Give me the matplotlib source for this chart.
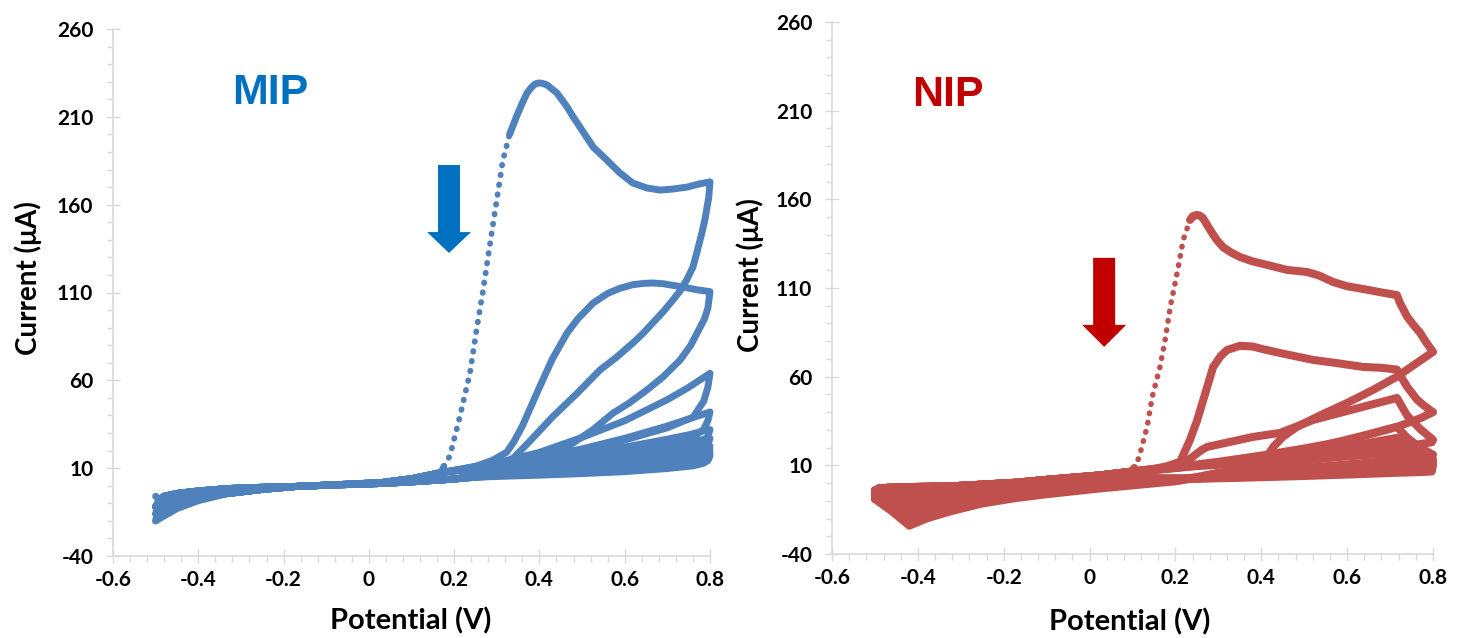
import numpy as np
import matplotlib.pyplot as plt
from matplotlib.patches import FancyArrow
from matplotlib.ticker import FixedLocator, FixedFormatter, MultipleLocator

plt.rcParams['axes.unicode_minus'] = False
plt.rcParams['font.family'] = ['Lato', 'DejaVu Sans']
plt.rcParams['font.weight'] = 'bold'

# axis ticks
x_ticks = [-0.6, -0.4, -0.2, 0, 0.2, 0.4, 0.6, 0.8]
x_tick_labels = ['-0.6', '-0.4', '-0.2', '0', '0.2', '0.4', '0.6', '0.8']
y_ticks = [-40, 10, 60, 110, 160, 210, 260]
y_tick_labels = ['-40', '10', '60', '110', '160', '210', '260']

# ---------------- MIP ----------------
mip_start_y = [-6, -20, -16, -12, -12, -12, -12, -12, -12, -12]   # forward start at -0.5 V

mip_fwd_base_x = [-0.49, -0.48, -0.45, -0.4, -0.33, -0.25, -0.17, -0.1, 0.03, 0.1, 0.17]
mip_fwd_base_y = [-8, -6, -4.4, -3, -1.6, -0.9, -0.4, 0.3, 1.8, 4.0, 7.5]

mip_rev_base_x = [0.2, 0.1, 0.03, -0.1, -0.17, -0.25, -0.33]
mip_rev_base_y = [3.8, 2.2, 1.3, 0.3, -0.4, -2.1, -4.4]

mip_tail_x = [-0.4, -0.45, -0.5]
mip_tail_r1 = [-8.5, -13, -20]
mip_tail_r2 = [-7, -10.5, -16]
mip_tail_rest = [-6, -8, -12]

mip_f1_x = [0.176, 0.19, 0.21, 0.237, 0.252, 0.267, 0.29, 0.314, 0.33, 0.346, 0.36,
            0.371, 0.382, 0.39, 0.398, 0.408, 0.418, 0.441, 0.465, 0.479, 0.495,
            0.526, 0.558, 0.589, 0.619, 0.652, 0.683, 0.713, 0.746, 0.775, 0.8]
mip_f1_y = [11, 17, 36, 64, 88, 110, 147, 185, 200, 210, 218,
            223.6, 227, 228.7, 229.3, 229, 228.1, 223.6, 215.6, 210, 204.2,
            192.8, 185.4, 178, 172.3, 169.5, 168.3, 168.9, 170, 171.8, 173]
mip_r1_x = [0.8, 0.797, 0.792, 0.788, 0.78, 0.77, 0.76, 0.745, 0.73, 0.713, 0.69,
            0.665, 0.642, 0.619, 0.58, 0.542, 0.49, 0.43, 0.38, 0.34, 0.3, 0.25]
mip_r1_y = [173, 164, 157, 151.3, 143, 133.5, 124.5, 117, 111, 105.7, 99,
            92.5, 86.5, 81.2, 73, 65.9, 53, 39, 26, 16, 10, 6.5]

mip_f2_x = [0.2, 0.25, 0.29, 0.323, 0.34, 0.36, 0.38, 0.4, 0.43, 0.465, 0.49, 0.526,
            0.56, 0.59, 0.62, 0.645, 0.666, 0.69, 0.715, 0.737, 0.77, 0.8]
mip_f2_y = [8.5, 11, 14.5, 19, 25, 34, 45, 56, 72, 87, 95, 104,
            109.5, 112.5, 114.5, 115.2, 115.4, 115, 114, 113.1, 111.5, 110.5]
mip_r2_x = [0.8, 0.795, 0.787, 0.777, 0.755, 0.73, 0.69, 0.652, 0.61, 0.573,
            0.526, 0.479, 0.44, 0.4, 0.35, 0.3, 0.25]
mip_r2_y = [110.5, 101, 95, 90.3, 80, 71.6, 62, 54.5, 47, 41.4,
            32, 24.3, 18.5, 14.6, 10.5, 7.5, 5.5]

mip_fwd_late_x = [0.25, 0.3, 0.4, 0.5, 0.6, 0.7, 0.75, 0.8]
mip_f3_y = [11, 13, 19, 27.5, 37, 49, 56, 64]
mip_f4_y = [10.8, 12.5, 16, 21, 27, 34, 38, 42]
mip_f5_y = [10.6, 12, 14.5, 18, 22, 26.5, 29, 32]
mip_f6_y = [10.4, 11.6, 13.8, 16.5, 19.5, 23, 25, 27]
mip_f7_y = [10.2, 11.3, 13, 15, 17.5, 19.8, 21.2, 22.5]
mip_f8_y = [10, 11, 12.5, 14, 16, 18, 19.2, 20.5]
mip_f9_y = [9.8, 10.7, 12, 13.3, 15, 16.7, 17.5, 18.5]
mip_f10_y = [9.6, 10.4, 11.5, 12.7, 14, 15.5, 16.2, 17]

mip_rev_late_x = [0.8, 0.795, 0.785, 0.76, 0.7, 0.6, 0.5, 0.4, 0.3, 0.25]
mip_r3_y = [64, 56, 48, 39, 33, 26, 19.5, 13, 7.5, 5.3]
mip_r4_y = [42, 37, 32, 28, 24.5, 19.5, 14.5, 10.5, 7, 5.2]
mip_r5_y = [32, 28, 25, 22, 19.5, 15.5, 12, 9, 6.5, 5.1]
mip_r6_y = [27, 23.5, 21, 18.5, 16.5, 13.5, 10.8, 8.3, 6.3, 5]
mip_r7_y = [22.5, 19.5, 17.5, 15.5, 14, 11.5, 9.5, 7.5, 6, 5]
mip_r8_y = [20.5, 17.5, 15.5, 13.8, 12.3, 10.2, 8.5, 7, 5.7, 4.9]
mip_r9_y = [18.5, 15.5, 14, 12.5, 11, 9.2, 7.8, 6.6, 5.5, 4.9]
mip_r10_y = [17, 14.3, 12.8, 11.3, 9.8, 8, 6.9, 6, 5.3, 4.8]

# ---------------- NIP ----------------
nip_start_y = [-4, -9, -8.5, -8, -7, -6, -5.5, -4.5]

nip_fwd_base_x = [-0.49, -0.45, -0.4, -0.325, -0.25, -0.17, -0.1, 0.025, 0.1]
nip_fwd_base_y = [-3, -2.4, -2.2, -1.9, -0.9, 0.2, 1.8, 4.3, 6.5]

nip_rev_left_x = [0.2, 0.1, 0.025, -0.1, -0.17, -0.25, -0.325, -0.38, -0.42, -0.46, -0.5]
nip_rl1_y = [1.0, -1.3, -3.0, -6.3, -8.4, -11.5, -16, -20, -24, -16, -9]
nip_rl2_y = [1.3, -0.7, -2.2, -5.2, -7.2, -10.2, -14.5, -17.5, -20.5, -14, -8.5]
nip_rl3_y = [1.6, -0.1, -1.4, -4.2, -6.0, -8.8, -12.8, -15, -17, -12, -8]
nip_rl4_y = [1.9, 0.5, -0.6, -3.2, -4.8, -7.4, -11, -12.5, -13.5, -10, -7]
nip_rl5_y = [2.1, 1.1, 0.2, -2.2, -3.6, -6, -9, -10, -10.5, -8.5, -6]
nip_rl6_y = [2.3, 1.7, 1.0, -1.2, -2.4, -4.6, -7, -8, -8, -7, -5.5]
nip_rl7_y = [2.5, 2.3, 1.8, -0.2, -1.2, -3.2, -5.2, -6, -6, -5.5, -4.5]
nip_rl8_y = [2.7, 2.9, 2.6, 0.8, 0, -1.8, -3.5, -4.2, -4.3, -4.2, -4]

nip_f1_x = [0.104, 0.11, 0.118, 0.134, 0.146, 0.164, 0.176, 0.188, 0.204, 0.218,
            0.234, 0.241, 0.25, 0.257, 0.264, 0.281, 0.295, 0.311, 0.33, 0.35,
            0.38, 0.414, 0.46, 0.507, 0.535, 0.567, 0.6, 0.647, 0.68, 0.716,
            0.723, 0.74, 0.755, 0.77, 0.785, 0.8]
nip_f1_y = [8.5, 11, 17, 31.7, 48.6, 65.5, 80.7, 99.4, 118.5, 137,
            148.4, 150.6, 151.2, 150.8, 149.5, 142.7, 137.5, 133, 130, 127.5,
            125, 123, 120.2, 119, 117, 113.4, 111, 109, 107.5, 106,
            101.6, 93.7, 89, 84.7, 79, 74]
nip_r1_x = [0.8, 0.77, 0.716, 0.66, 0.6, 0.54, 0.483, 0.45, 0.428, 0.413,
            0.39, 0.35, 0.3, 0.25]
nip_r1_y = [74, 69, 60, 52.5, 45.2, 38.5, 31.7, 26, 20.4, 14.8,
            11, 8, 5, 3]

nip_f2_x = [0.15, 0.18, 0.211, 0.234, 0.25, 0.265, 0.288, 0.305, 0.32, 0.35,
            0.38, 0.404, 0.46, 0.52, 0.58, 0.637, 0.68, 0.716, 0.728, 0.74,
            0.763, 0.78, 0.8]
nip_f2_y = [8, 9.5, 12, 24.4, 35, 47, 65.5, 71.5, 75, 77.4,
            77, 75.5, 72.5, 69.5, 67.5, 65.5, 65, 64, 59, 54.2,
            47, 43.5, 40]
nip_r2_x = [0.8, 0.77, 0.716, 0.65, 0.6, 0.5, 0.45, 0.4, 0.35, 0.3, 0.25]
nip_r2_y = [40, 36.5, 31.7, 27.5, 24.5, 18.5, 15, 11.5, 8.5, 5.5, 3.2]

nip_f3_x = [0.15, 0.2, 0.23, 0.26, 0.274, 0.327, 0.38, 0.444, 0.521, 0.637,
            0.716, 0.728, 0.74, 0.77, 0.8]
nip_f3_y = [8, 9.5, 13, 18.5, 20.4, 23.2, 26, 28.3, 35.6, 43,
            48, 43, 38, 30.5, 24.4]

nip_fwd_late_x = [0.15, 0.25, 0.3, 0.4, 0.5, 0.6, 0.716, 0.74, 0.77, 0.8]
nip_f4_y = [7.8, 10.5, 12, 15.5, 19.5, 24, 31.7, 25.5, 20, 16]
nip_f5_y = [7.6, 10.2, 11.5, 14, 17, 20.5, 25.5, 20.5, 16, 13.5]
nip_f6_y = [7.5, 10, 11, 13, 15.5, 18, 21.5, 17.5, 14, 12]
nip_f7_y = [7.4, 9.8, 10.6, 12.3, 14.2, 16.2, 19, 15.5, 12.8, 11]
nip_f8_y = [7.3, 9.6, 10.3, 11.8, 13.3, 15, 17, 14.2, 12, 10.5]

nip_rev_late_x = [0.8, 0.797, 0.77, 0.716, 0.6, 0.5, 0.4, 0.3, 0.25]
nip_r3_y = [24.4, 23, 22, 20, 15.5, 12.5, 9.5, 5.8, 3.4]
nip_r4_y = [16, 15, 14.5, 13, 10.5, 8.5, 6.5, 4.5, 3]
nip_r5_y = [13.5, 12, 11.5, 10.5, 8.7, 7.2, 5.6, 3.9, 2.8]
nip_r6_y = [12, 8.5, 8, 7.5, 6.3, 5.2, 4.2, 3.3, 2.8]
nip_r7_y = [11, 7.5, 7, 6.5, 5.5, 4.5, 3.7, 3, 2.6]
nip_r8_y = [10.5, 6.5, 6.2, 5.8, 4.8, 4, 3.3, 2.7, 2.4]

MIP_COLOR = '#4F81BD'
NIP_COLOR = '#C0504D'


def scan(start_y, fbx, fby, fx, fy, rx, ry, rlx, rly):
    # one full cycle: -0.5 V -> 0.8 V -> -0.5 V
    x = [-0.5] + list(fbx) + list(fx) + list(rx) + list(rlx)
    y = [start_y] + list(fby) + list(fy) + list(ry) + list(rly)
    return np.array(x), np.array(y)


def draw_cycle(ax, x, y, color, lw):
    ax.plot(x, y, color=color, lw=lw, solid_capstyle='round',
            solid_joinstyle='round', clip_on=False)


def draw_dotted(ax, x, y, color, lw):
    ax.plot(x, y, color=color, lw=lw, ls=(0, (0.1, 1.6)),
            dash_capstyle='round', clip_on=False)


def style(ax):
    ax.set_xlim(-0.6, 0.8)
    ax.set_ylim(-40, 260)
    for s in ['top', 'right']:
        ax.spines[s].set_visible(False)
    for s in ['left', 'bottom']:
        ax.spines[s].set_color('#D9D9D9')
        ax.spines[s].set_linewidth(1.2)
    ax.xaxis.set_major_locator(FixedLocator(x_ticks))
    ax.xaxis.set_major_formatter(FixedFormatter(x_tick_labels))
    ax.yaxis.set_major_locator(FixedLocator(y_ticks))
    ax.yaxis.set_major_formatter(FixedFormatter(y_tick_labels))
    ax.xaxis.set_minor_locator(MultipleLocator(0.04))
    ax.yaxis.set_minor_locator(MultipleLocator(10))
    ax.tick_params(which='major', direction='inout', length=10.5, width=1,
                   color='#D9D9D9', labelsize=15)
    ax.tick_params(which='minor', direction='out', length=4.5, width=1,
                   color='#D9D9D9')
    ax.tick_params(axis='y', which='major', pad=9)
    ax.tick_params(axis='x', which='major', pad=5)
    for lab in ax.get_xticklabels() + ax.get_yticklabels():
        lab.set_fontweight('bold')


fig = plt.figure(figsize=(14.65, 6.38), dpi=100)
ax1 = fig.add_axes([113 / 1465, 1 - 556 / 638, 597 / 1465, 527 / 638])
ax2 = fig.add_axes([832 / 1465, 1 - 554 / 638, 601 / 1465, 532 / 638])

# ---- MIP panel ----
lw_m = 5.0
mip_fwd_right = [(mip_f1_x, mip_f1_y), (mip_f2_x, mip_f2_y),
                 (mip_fwd_late_x, mip_f3_y), (mip_fwd_late_x, mip_f4_y),
                 (mip_fwd_late_x, mip_f5_y), (mip_fwd_late_x, mip_f6_y),
                 (mip_fwd_late_x, mip_f7_y), (mip_fwd_late_x, mip_f8_y),
                 (mip_fwd_late_x, mip_f9_y), (mip_fwd_late_x, mip_f10_y)]
mip_rev_right = [(mip_r1_x, mip_r1_y), (mip_r2_x, mip_r2_y),
                 (mip_rev_late_x, mip_r3_y), (mip_rev_late_x, mip_r4_y),
                 (mip_rev_late_x, mip_r5_y), (mip_rev_late_x, mip_r6_y),
                 (mip_rev_late_x, mip_r7_y), (mip_rev_late_x, mip_r8_y),
                 (mip_rev_late_x, mip_r9_y), (mip_rev_late_x, mip_r10_y)]
mip_tails = [mip_tail_r1, mip_tail_r2] + [mip_tail_rest] * 8

for i in range(10):
    fx, fy = mip_fwd_right[i]
    rx, ry = mip_rev_right[i]
    x, y = scan(mip_start_y[i], mip_fwd_base_x, mip_fwd_base_y, fx, fy, rx, ry,
                mip_rev_base_x + mip_tail_x, mip_rev_base_y + mip_tails[i])
    if i == 0:
        n0 = 1 + len(mip_fwd_base_x)
        x1 = np.array(mip_f1_x)
        a = n0 + np.searchsorted(x1, 0.176)
        b = n0 + np.searchsorted(x1, 0.33)
        draw_cycle(ax1, x[:a + 1], y[:a + 1], MIP_COLOR, lw_m)
        draw_dotted(ax1, x[a:b + 1], y[a:b + 1], MIP_COLOR, 4.2)
        draw_cycle(ax1, x[b:], y[b:], MIP_COLOR, lw_m)
    else:
        draw_cycle(ax1, x, y, MIP_COLOR, lw_m)

ax1.add_patch(FancyArrow(0.188, 182.6, 0, -50.1, width=0.0516, head_width=0.103,
                         head_length=11.9, length_includes_head=True,
                         color='#0070C0', lw=0))
ax1.text(-0.232, 223.6, 'MIP', color='#0070C0', fontsize=31, fontweight='bold',
         family=['Liberation Sans', 'DejaVu Sans'],
         ha='center', va='center')
style(ax1)

# ---- NIP panel ----
lw_n = 5.8
nip_fwd_right = [(nip_f1_x, nip_f1_y), (nip_f2_x, nip_f2_y), (nip_f3_x, nip_f3_y),
                 (nip_fwd_late_x, nip_f4_y), (nip_fwd_late_x, nip_f5_y),
                 (nip_fwd_late_x, nip_f6_y), (nip_fwd_late_x, nip_f7_y),
                 (nip_fwd_late_x, nip_f8_y)]
nip_rev_right = [(nip_r1_x, nip_r1_y), (nip_r2_x, nip_r2_y),
                 (nip_rev_late_x, nip_r3_y), (nip_rev_late_x, nip_r4_y),
                 (nip_rev_late_x, nip_r5_y), (nip_rev_late_x, nip_r6_y),
                 (nip_rev_late_x, nip_r7_y), (nip_rev_late_x, nip_r8_y)]
nip_rev_left = [nip_rl1_y, nip_rl2_y, nip_rl3_y, nip_rl4_y,
                nip_rl5_y, nip_rl6_y, nip_rl7_y, nip_rl8_y]

for i in range(8):
    fx, fy = nip_fwd_right[i]
    rx, ry = nip_rev_right[i]
    x, y = scan(nip_start_y[i], nip_fwd_base_x, nip_fwd_base_y, fx, fy, rx, ry,
                nip_rev_left_x, nip_rev_left[i])
    if i == 0:
        n0 = 1 + len(nip_fwd_base_x)
        x1 = np.array(nip_f1_x)
        a = n0 + np.searchsorted(x1, 0.104)
        b = n0 + np.searchsorted(x1, 0.234)
        draw_cycle(ax2, x[:a + 1], y[:a + 1], NIP_COLOR, lw_n)
        draw_dotted(ax2, x[a:b + 1], y[a:b + 1], NIP_COLOR, 4.0)
        draw_cycle(ax2, x[b:], y[b:], NIP_COLOR, lw_n)
    else:
        draw_cycle(ax2, x, y, NIP_COLOR, lw_n)

ax2.add_patch(FancyArrow(0.034, 127, 0, -50.2, width=0.0513, head_width=0.1026,
                         head_length=12.4, length_includes_head=True,
                         color='#C00000', lw=0))
ax2.text(-0.33, 218.8, 'NIP', color='#C00000', fontsize=31, fontweight='bold',
         family=['Liberation Sans', 'DejaVu Sans'],
         ha='center', va='center')
style(ax2)

# axis titles
fig.text(28 / 1465, 1 - 278 / 638, 'Current (μA)', rotation=90, fontsize=20,
         fontweight='bold', ha='center', va='center')
fig.text(750 / 1465, 1 - 275 / 638, 'Current (μA)', rotation=90, fontsize=20,
         fontweight='bold', ha='center', va='center')
fig.text(411 / 1465, 1 - 621 / 638, 'Potential (V)', fontsize=21,
         fontweight='bold', ha='center', va='center')
fig.text(1130 / 1465, 1 - 622 / 638, 'Potential (V)', fontsize=21,
         fontweight='bold', ha='center', va='center')

fig.savefig('out.png', dpi=100, facecolor='white')
